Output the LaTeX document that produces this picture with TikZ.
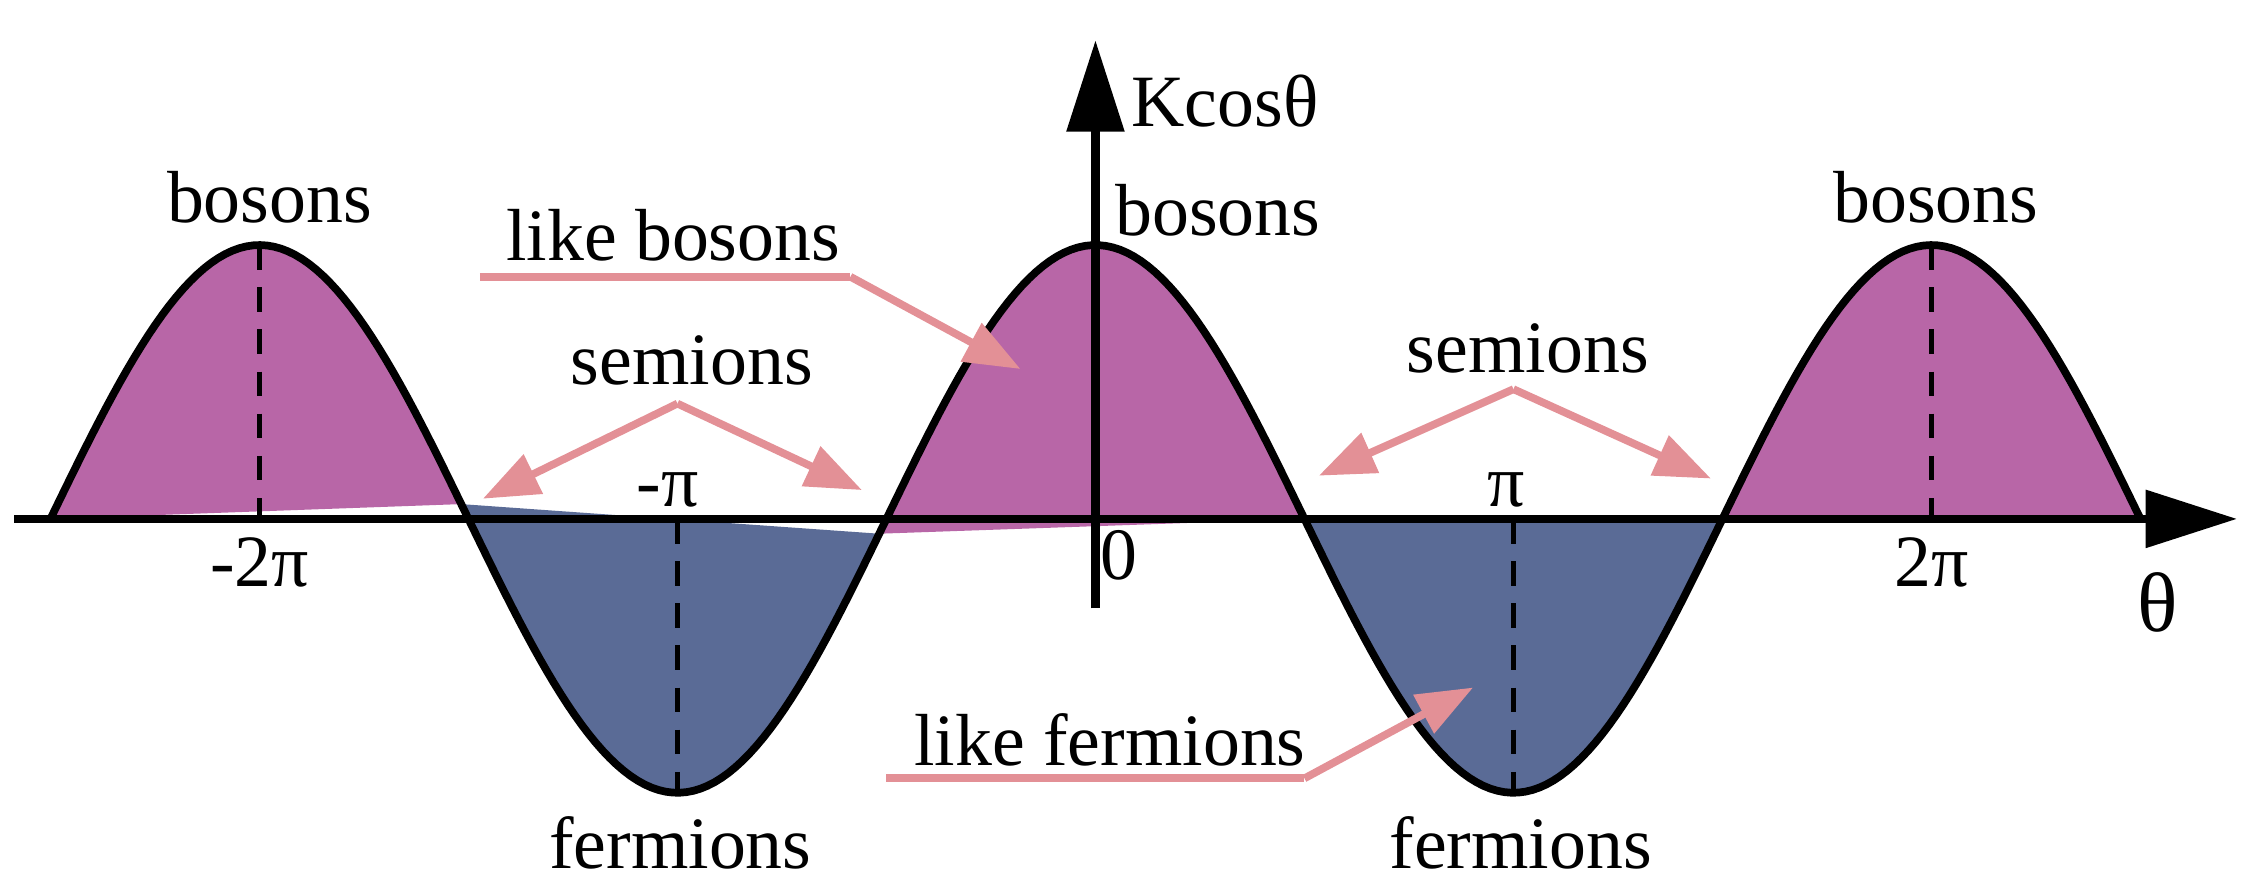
\documentclass[tikz,border=0pt]{standalone}
\usepackage{fontspec}
\setmainfont{Liberation Serif}
\usetikzlibrary{arrows.meta}
\definecolor{bos}{HTML}{B866A7}
\definecolor{fer}{HTML}{5A6B96}
\definecolor{pk}{HTML}{E39096}
\begin{document}
\begin{tikzpicture}[x=0.014414cm,y=-0.014414cm,
  lab/.style={font=\fontsize{21}{24}\selectfont,inner sep=0pt},
  pa/.style={pk,line width=2.2pt,-{Triangle[length=16pt,width=12pt]}},
  pl/.style={pk,line width=2.2pt},
  dl/.style={black,line width=1.3pt,dash pattern=on 7pt off 5pt}]
\useasboundingbox (0,0) rectangle (1561,615);
\def\f#1{360-190*cos(((#1)-760)/290*180)}
\foreach \a/\b/\c in {35/320/bos,610/905/bos,1195/1485/bos,320/610/fer,905/1195/fer}{
  \fill[\c] plot[domain=\a:\b,samples=60] (\x,{\f{\x}}) -- cycle;
}
\draw[line width=2.2pt] plot[domain=35:1485,samples=300] (\x,{\f{\x}});
\draw[dl] (180,170) -- (180,360);
\draw[dl] (1340,170) -- (1340,360);
\draw[dl] (470,360) -- (470,552);
\draw[dl] (1050,360) -- (1050,552);
\coordinate (xa) at (10,360); \coordinate (xb) at (1552,360);
\coordinate (ya) at (760,422); \coordinate (yb) at (760,28);
\draw[line width=2.4pt,-{Triangle[length=26pt,width=16pt]}] (xa) -- (xb);
\draw[line width=2.4pt,-{Triangle[length=26pt,width=16pt]}] (ya) -- (yb);
\node[lab] (b1) at (187,137) {bosons};
\node[lab] (b2) at (845,146) {bosons};
\node[lab] (b3) at (1343,137) {bosons};
\node[lab] (s1) at (480,250) {semions};
\node[lab] (s2) at (1060,242) {semions};
\node[lab] (f1) at (472,585) {fermions};
\node[lab] (f2) at (1055,585) {fermions};
\node[lab] (mp) at (463,340) {-π};
\node[lab] (pp) at (1045,340) {π};
\node[lab] (m2) at (180,390) {-2π};
\node[lab] (z0) at (776,385) {0};
\node[lab] (p2) at (1340,390) {2π};
\node[lab,font=\fontsize{24}{28}\selectfont] (th) at (1497,418) {θ};
\node[lab] (K) at (850,70) {Kcosθ};
\node[lab] (lb) at (467,163) {like bosons};
\node[lab] (lf) at (770,513) {like fermions};
\coordinate (lb1) at (333,192); \coordinate (lb2) at (590,192); \coordinate (lb3) at (708,256);
\draw[pl] (lb1) -- (lb2); \draw[pa] (lb2) -- (lb3);
\coordinate (lf1) at (615,540); \coordinate (lf2) at (905,540); \coordinate (lf3) at (1022,477);
\draw[pl] (lf1) -- (lf2); \draw[pa] (lf2) -- (lf3);
\coordinate (s1c) at (470,280); \coordinate (s2c) at (1050,270);
\coordinate (s1a) at (335,346); \coordinate (s1b) at (598,340);
\coordinate (s2a) at (915,330); \coordinate (s2b) at (1187,332);
\draw[pa] (s1c) -- (s1a); \draw[pa] (s1c) -- (s1b);
\draw[pa] (s2c) -- (s2a); \draw[pa] (s2c) -- (s2b);
\end{tikzpicture}
\end{document}
